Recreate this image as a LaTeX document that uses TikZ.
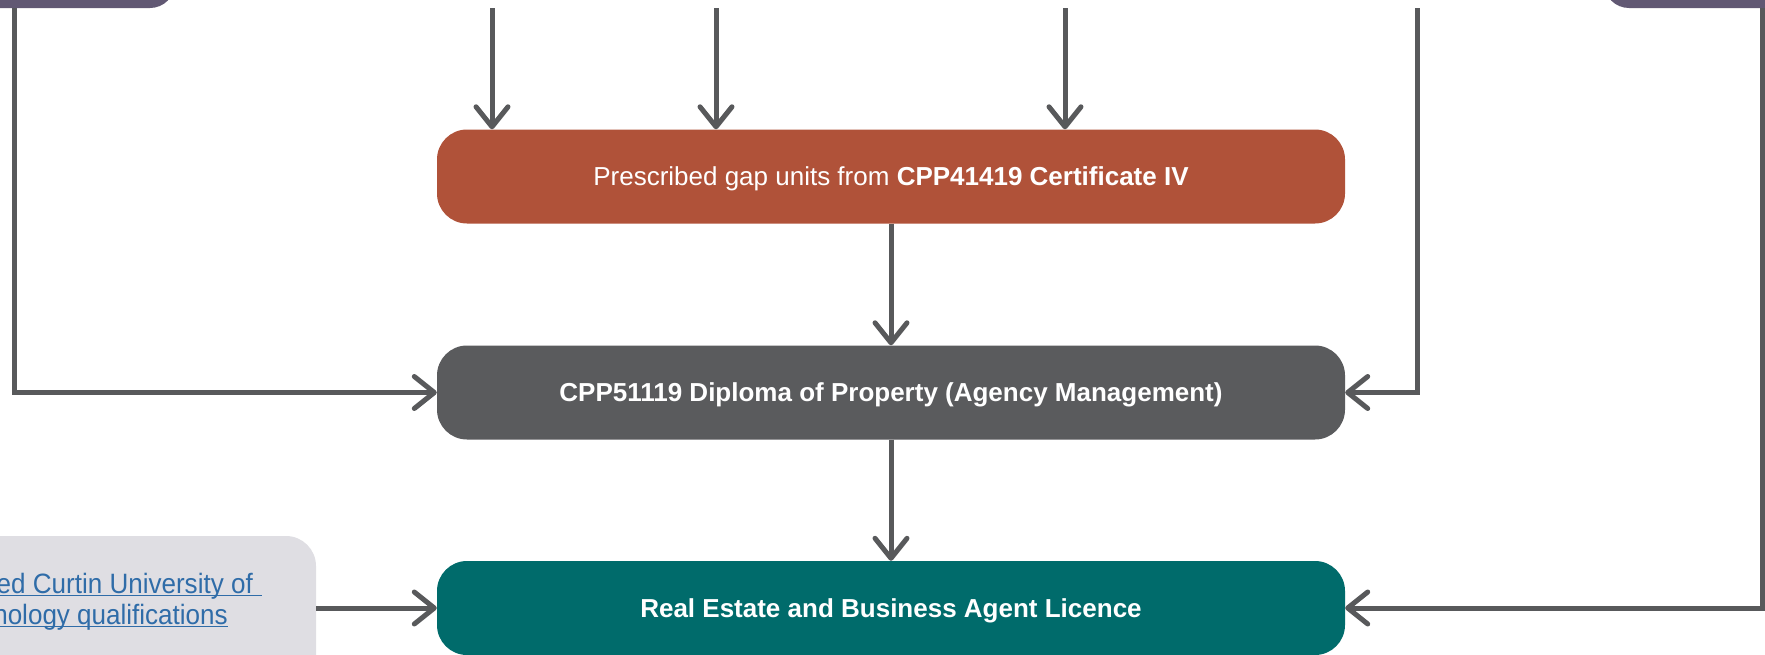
\documentclass[tikz,border=0pt]{standalone}
\usepackage{fontspec}
\setmainfont{Liberation Sans}
\newfontfamily\boxfont{Liberation Sans}
\newfontfamily\linkfont[FakeStretch=0.93]{Liberation Sans}
\usetikzlibrary{arrows.meta,calc}
\definecolor{purp}{HTML}{615873}
\definecolor{rust}{HTML}{B05239}
\definecolor{slate}{HTML}{5A5B5D}
\definecolor{tealc}{HTML}{006B6B}
\definecolor{pale}{HTML}{DFDEE3}
\definecolor{linec}{HTML}{58595B}
\definecolor{linkc}{HTML}{2F6CA8}
\tikzset{
  flowbox/.style={rectangle, rounded corners=30pt, minimum width=908pt, minimum height=94pt,
    inner sep=0pt, text=white, text height=18.6pt, text depth=0pt,
    font=\boxfont\fontsize{26}{30}\selectfont},
  topbox/.style={rectangle, rounded corners=25pt, fill=purp, inner sep=0pt},
  arr/.style={draw=linec, line width=5pt, -{Straight Barb[length=20pt,width=32pt,round]}},
  linktext/.style={inner sep=0pt, text=linkc, font=\linkfont\fontsize{28}{32}\selectfont},
  uline/.style={draw=linkc, line width=1.6pt}
}
\begin{document}
\begin{tikzpicture}[x=1pt,y=-1pt]
\useasboundingbox (0,0) rectangle (1765,654);
\clip (0,0) rectangle (1765,654);
% top boxes (cropped)
\node[topbox, minimum width=235pt, minimum height=68pt] (tl) at (57.5,-26) {};
\node[topbox, minimum width=226pt, minimum height=68pt] (tr) at (1717,-26) {};
% main boxes
\node[flowbox, fill=rust] (gap) at (891,176.5) {Prescribed gap units from \textbf{CPP41419 Certificate IV}};
\node[flowbox, fill=slate] (dip) at (891,392.5) {\textbf{CPP51119 Diploma of Property (Agency Management)}};
\node[flowbox, fill=tealc] (lic) at (891,608) {\textbf{Real Estate and Business Agent Licence}};
% left pale box (cropped)
\node[rectangle, rounded corners=30pt, fill=pale, minimum width=376pt, minimum height=164pt, inner sep=0pt] (cur) at (128,618) {};
\node[linktext, anchor=base east] (cur1) at (253,593) {ed Curtin University of};
\node[linktext, anchor=base east] (cur2) at (228,624) {nology qualifications};
\draw[uline] ($(cur1.base west)+(-40,2.5)$) -- ($(cur1.base east)+(9,2.5)$);
\draw[uline] ($(cur2.base west)+(-40,2.5)$) -- ($(cur2.base east)+(0,2.5)$);
% free line starts
\coordinate (s1) at (492,8);
\coordinate (s2) at (716,8);
\coordinate (s3) at (1065,8);
\coordinate (sl) at (14.5,8);
\coordinate (sr) at (1417,8);
\coordinate (sfr) at (1762,8);
% connectors
\draw[arr] (s1) -- (s1 |- gap.north);
\draw[arr] (s2) -- (s2 |- gap.north);
\draw[arr] (s3) -- (s3 |- gap.north);
\draw[arr] (sl) |- (dip.west);
\draw[arr] (sr) |- (dip.east);
\draw[arr] (sfr) |- (lic.east);
\draw[arr] (gap) -- (dip);
\draw[arr] (dip) -- (lic);
\draw[arr] (lic.west -| cur.east) -- (lic.west);
\end{tikzpicture}
\end{document}
